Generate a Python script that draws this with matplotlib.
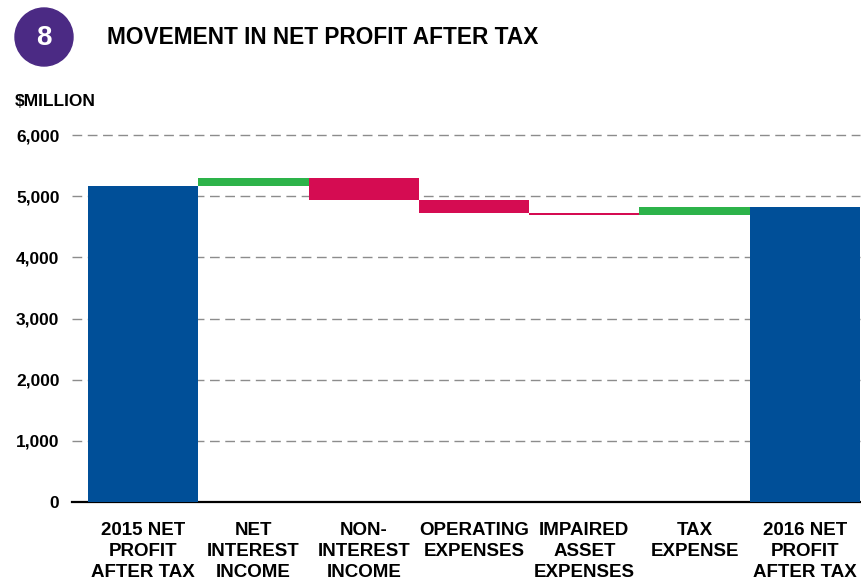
import matplotlib.pyplot as plt
from matplotlib.patches import Ellipse

# Data ($ million)
categories = ["2015 NET\nPROFIT\nAFTER TAX", "NET\nINTEREST\nINCOME", "NON-\nINTEREST\nINCOME",
              "OPERATING\nEXPENSES", "IMPAIRED\nASSET\nEXPENSES", "TAX\nEXPENSE",
              "2016 NET\nPROFIT\nAFTER TAX"]
start_value = 5170
deltas = [130, -360, -210, -30, 125]
end_value = 4825
y_ticks = [0, 1000, 2000, 3000, 4000, 5000, 6000]
y_labels = ["0", "1,000", "2,000", "3,000", "4,000", "5,000", "6,000"]

BLUE = "#004f98"
GREEN = "#2db34a"
RED = "#d50c52"
PURPLE = "#4b2a84"

narrow = ["Liberation Sans Narrow", "Liberation Sans", "DejaVu Sans"]
plt.rcParams["font.family"] = ["Liberation Sans", "DejaVu Sans"]

fig = plt.figure(figsize=(8.61, 5.82), dpi=100)
W, H = 861, 582
ax = fig.add_axes([72 / W, 1 - 502 / H, (860 - 72) / W, (502 - 135) / H])

# waterfall
ax.bar(0, start_value, width=1.0, color=BLUE, zorder=3)
level = start_value
for i, d in enumerate(deltas, start=1):
    bottom = level if d >= 0 else level + d
    ax.bar(i, abs(d), bottom=bottom, width=1.0,
           color=GREEN if d >= 0 else RED, zorder=3)
    level += d
ax.bar(len(categories) - 1, end_value, width=1.0, color=BLUE, zorder=3)

ax.set_xlim(-0.5 - 16 / 110.3, len(categories) - 0.5)
ax.set_ylim(0, 6000)

for y in y_ticks[1:]:
    ax.axhline(y, color="#8c8c8c", lw=1.0, ls=(0, (7, 4)), zorder=1, clip_on=False)

for s in ["top", "right", "left"]:
    ax.spines[s].set_visible(False)
ax.spines["bottom"].set_linewidth(1.6)
ax.spines["bottom"].set_color("black")

ax.set_yticks(y_ticks)
ax.set_yticklabels(y_labels, fontsize=12.5, fontweight="bold")
ax.tick_params(axis="y", length=0, pad=9)
ax.set_xticks(range(len(categories)))
ax.set_xticklabels(categories, fontsize=13.5, fontweight="bold", family=narrow,
                   linespacing=1.3)
ax.tick_params(axis="x", length=0, pad=14.5)

fig.text(15 / W, 1 - 102 / H, "$MILLION", fontsize=12.5, fontweight="bold",
         va="center", ha="left")

# header
fig.add_artist(Ellipse((44 / W, 1 - 37 / H), 58 / W, 58 / H, color=PURPLE,
                       transform=fig.transFigure))
fig.text(44 / W, 1 - 38 / H, "8", color="white", fontsize=20, fontweight="bold",
         family=narrow, ha="center", va="center")
fig.text(107 / W, 1 - 37 / H, "MOVEMENT IN NET PROFIT AFTER TAX", fontsize=16.3,
         fontweight="bold", family=narrow, ha="left", va="center")

fig.savefig("out.png", dpi=100)
